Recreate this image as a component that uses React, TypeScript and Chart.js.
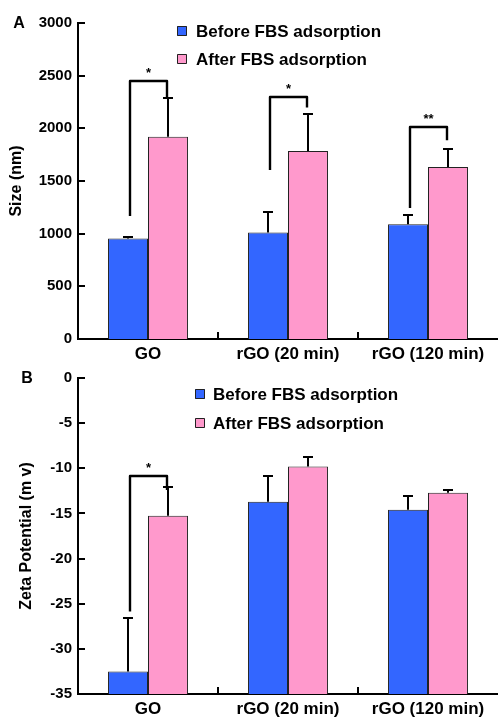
import React, { useEffect, useRef } from 'react';
import { Chart, registerables } from 'chart.js';

Chart.register(...registerables);

// ---------- data ----------
const categories = ['GO', 'rGO (20 min)', 'rGO (120 min)'];
const seriesLabels = ['Before FBS adsorption', 'After FBS adsorption'];

// Panel A: size (nm)
const sizeBefore = [955, 1010, 1090];
const sizeBeforeErr = [12, 195, 88];
const sizeAfter = [1920, 1785, 1632];
const sizeAfterErr = [372, 350, 168];
const sizeTicks = { min: 0, max: 3000, step: 500 };
// significance brackets (data units)
const sizeSigTop = [2447, 2298, 2014];
const sizeSigLeftEnd = [1168, 1604, 1244];
const sizeSigRightEnd = [2298, 2198, 1888];
const sizeSigLabel = ['*', '*', '**'];

// Panel B: zeta potential (mv)
const zetaBefore = [-32.5, -13.7, -14.6];
const zetaBeforeErr = [5.9, 2.8, 1.5];
const zetaAfter = [-15.25, -9.8, -12.7];
const zetaAfterErr = [3.15, 1.0, 0.35];
const zetaTicks = { min: -35, max: 0, step: 5 };
const zetaSigTop = [-10.86, null, null];
const zetaSigLeftEnd = [-25.86, null, null];
const zetaSigRightEnd = [-12.4, null, null];
const zetaSigLabel = ['*', '', ''];

// ---------- styles ----------
const FONT = '"Liberation Sans", Arial, Helvetica, sans-serif';
const BLUE = '#3366ff';
const PINK = '#ff99cc';
const INK = '#000000';
const W = 498;

type PanelCfg = {
  top: number;
  height: number;
  areaTop: number;
  areaBottom: number;
  before: number[];
  beforeErr: number[];
  after: number[];
  afterErr: number[];
  ticks: { min: number; max: number; step: number };
  base?: number;
  yTitle: string;
  yTitlePad: number;
  sigTop: (number | null)[];
  sigLeft: (number | null)[];
  sigRight: (number | null)[];
  sigLabel: string[];
  letter: string;
  letterX: number;
  letterY: number;
  legendBoxX: number;
  legendTextX: number;
  legendY: number[];
};

function line(ctx: CanvasRenderingContext2D, x1: number, y1: number, x2: number, y2: number) {
  ctx.beginPath();
  ctx.moveTo(x1, y1);
  ctx.lineTo(x2, y2);
  ctx.stroke();
}

function makeDecor(cfg: PanelCfg) {
  const errs = [cfg.beforeErr, cfg.afterErr];
  return {
    id: 'decor',
    afterDatasetsDraw(chart: any) {
      const ctx: CanvasRenderingContext2D = chart.ctx;
      const ys = chart.scales.y;
      const xs = chart.scales.x;
      const area = chart.chartArea;
      ctx.save();
      ctx.strokeStyle = INK;
      ctx.lineWidth = 2;
      ctx.lineCap = 'butt';
      // error bars
      chart.data.datasets.forEach((ds: any, di: number) => {
        const meta = chart.getDatasetMeta(di);
        meta.data.forEach((el: any, i: number) => {
          const v = ds.data[i];
          const e = errs[di][i];
          const x = Math.round(el.x);
          const yBar = ys.getPixelForValue(v);
          const yTop = Math.round(ys.getPixelForValue(v + e));
          line(ctx, x, yBar, x, yTop);
          line(ctx, x - 5, yTop, x + 5, yTop);
        });
      });
      // inward tick marks y
      ys.ticks.forEach((t: any) => {
        const y = Math.round(ys.getPixelForValue(t.value));
        line(ctx, area.left, y, area.left + 7, y);
      });
      // inward tick marks x at category boundaries
      for (let i = 0; i < categories.length - 1; i++) {
        const x = Math.round((xs.getPixelForValue(i) + xs.getPixelForValue(i + 1)) / 2);
        line(ctx, x, area.bottom, x, area.bottom - 7);
      }
      // significance brackets
      const m0 = chart.getDatasetMeta(0);
      const m1 = chart.getDatasetMeta(1);
      ctx.lineJoin = 'round';
      ctx.lineWidth = 2.4;
      for (let i = 0; i < categories.length; i++) {
        const t = cfg.sigTop[i];
        const l = cfg.sigLeft[i];
        const r = cfg.sigRight[i];
        if (t == null || l == null || r == null) continue;
        const xl = Math.round(m0.data[i].x + 2);
        const xr = Math.round(m1.data[i].x - 1);
        const yt = Math.round(ys.getPixelForValue(t));
        ctx.beginPath();
        ctx.moveTo(xl, ys.getPixelForValue(l));
        ctx.lineTo(xl, yt);
        ctx.lineTo(xr, yt);
        ctx.lineTo(xr, ys.getPixelForValue(r));
        ctx.stroke();
        ctx.fillStyle = INK;
        ctx.font = `bold 13px ${FONT}`;
        ctx.textAlign = 'center';
        ctx.textBaseline = 'middle';
        ctx.fillText(cfg.sigLabel[i], (xl + xr) / 2, yt - 8);
      }
      // legend
      const colors = [BLUE, PINK];
      ctx.lineWidth = 1;
      ctx.font = `bold 17px ${FONT}`;
      ctx.textAlign = 'left';
      ctx.textBaseline = 'middle';
      seriesLabels.forEach((lab, k) => {
        const cy = cfg.legendY[k];
        ctx.fillStyle = colors[k];
        ctx.fillRect(cfg.legendBoxX, cy - 5, 10, 10);
        ctx.strokeStyle = '#222';
        ctx.strokeRect(cfg.legendBoxX + 0.5, cy - 4.5, 9, 9);
        ctx.fillStyle = INK;
        ctx.fillText(lab, cfg.legendTextX, cy + 1);
      });
      // panel letter
      ctx.font = `bold 16px ${FONT}`;
      ctx.textAlign = 'center';
      ctx.fillText(cfg.letter, cfg.letterX, cfg.letterY);
      ctx.restore();
    },
  };
}

function Panel({ cfg }: { cfg: PanelCfg }) {
  const ref = useRef<HTMLCanvasElement | null>(null);
  useEffect(() => {
    if (!ref.current) return;
    const chart = new Chart(ref.current, {
      type: 'bar',
      data: {
        labels: categories,
        datasets: [
          {
            label: seriesLabels[0],
            data: cfg.before,
            backgroundColor: BLUE,
            borderColor: '#222',
            borderWidth: 1,
            ...(cfg.base !== undefined ? { base: cfg.base } : {}),
          } as any,
          {
            label: seriesLabels[1],
            data: cfg.after,
            backgroundColor: PINK,
            borderColor: '#222',
            borderWidth: 1,
            ...(cfg.base !== undefined ? { base: cfg.base } : {}),
          } as any,
        ],
      },
      options: {
        responsive: false,
        animation: false,
        devicePixelRatio: 1,
        layout: { padding: { top: cfg.areaTop, left: 0, right: 0, bottom: 0 } },
        plugins: { legend: { display: false }, tooltip: { enabled: false } },
        datasets: { bar: { categoryPercentage: 0.571, barPercentage: 1.0 } },
        scales: {
          x: {
            type: 'category',
            grid: { display: false, drawTicks: false },
            border: { display: true, color: INK, width: 2 },
            ticks: {
              color: INK,
              font: { family: FONT, size: 17, weight: 'bold' },
              padding: 5,
              maxRotation: 0,
              autoSkip: false,
            },
            afterFit: (s: any) => {
              s.height = cfg.height - cfg.areaBottom;
            },
          },
          y: {
            type: 'linear',
            min: cfg.ticks.min,
            max: cfg.ticks.max,
            grid: { display: false, drawTicks: false },
            border: { display: true, color: INK, width: 2 },
            ticks: {
              stepSize: cfg.ticks.step,
              color: INK,
              font: { family: FONT, size: 15, weight: 'bold' },
              padding: 6,
              callback: (v: any) => String(v),
            },
            title: {
              display: true,
              text: cfg.yTitle,
              color: INK,
              font: { family: FONT, size: 16, weight: 'bold' },
              padding: { top: cfg.yTitlePad, bottom: 0 },
            },
            afterFit: (s: any) => {
              s.width = 78;
            },
          },
        },
      } as any,
      plugins: [makeDecor(cfg)],
    });
    return () => chart.destroy();
  }, []);
  return (
    <canvas
      ref={ref}
      width={W}
      height={cfg.height}
      style={{ position: 'absolute', left: 0, top: cfg.top, width: W, height: cfg.height }}
    />
  );
}

const panelA: PanelCfg = {
  top: 0,
  height: 362,
  areaTop: 23,
  areaBottom: 339,
  before: sizeBefore,
  beforeErr: sizeBeforeErr,
  after: sizeAfter,
  afterErr: sizeAfterErr,
  ticks: sizeTicks,
  yTitle: 'Size (nm)',
  yTitlePad: 7,
  sigTop: sizeSigTop,
  sigLeft: sizeSigLeftEnd,
  sigRight: sizeSigRightEnd,
  sigLabel: sizeSigLabel,
  letter: 'A',
  letterX: 19,
  letterY: 24,
  legendBoxX: 177,
  legendTextX: 196,
  legendY: [31, 59],
};

const panelB: PanelCfg = {
  top: 362,
  height: 355,
  areaTop: 16,
  areaBottom: 332,
  before: zetaBefore,
  beforeErr: zetaBeforeErr,
  after: zetaAfter,
  afterErr: zetaAfterErr,
  ticks: zetaTicks,
  base: -35,
  yTitle: 'Zeta Potential (m v)',
  yTitlePad: 17,
  sigTop: zetaSigTop,
  sigLeft: zetaSigLeftEnd,
  sigRight: zetaSigRightEnd,
  sigLabel: zetaSigLabel,
  letter: 'B',
  letterX: 27,
  letterY: 17,
  legendBoxX: 195,
  legendTextX: 213,
  legendY: [32, 61],
};

export default function App() {
  return (
    <div style={{ position: 'absolute', left: 0, top: 0, width: W, height: 717, background: '#fff', overflow: 'hidden' }}>
      <Panel cfg={panelA} />
      <Panel cfg={panelB} />
    </div>
  );
}
